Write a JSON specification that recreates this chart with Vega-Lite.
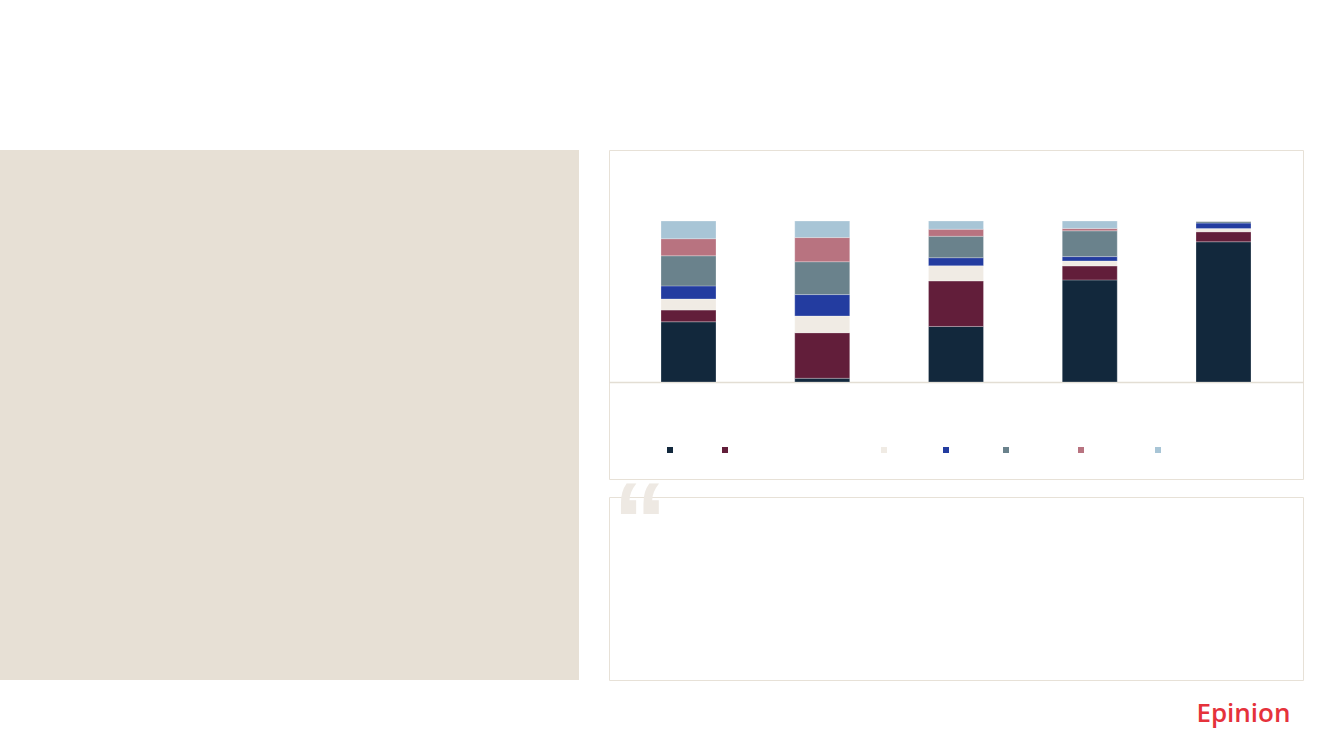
{
  "$schema": "https://vega.github.io/schema/vega-lite/v6.json",
  "background": "#ffffff",
  "padding": {"top": 149, "left": 0, "right": 30, "bottom": 30},
  "title": {
    "text": "Epinion",
    "orient": "bottom",
    "anchor": "end",
    "font": "Open Sans",
    "fontSize": 26,
    "fontWeight": 600,
    "color": "#e5323b",
    "offset": 20,
    "dx": -13
  },
  "config": {
    "view": {"stroke": null},
    "legend": {
      "labelFont": "Open Sans",
      "labelFontSize": 10,
      "labelColor": "#ffffff",
      "symbolType": "square",
      "symbolSize": 36,
      "symbolStrokeWidth": 0
    }
  },
  "bounds": "flush",
  "spacing": 30,
  "hconcat": [
    {
      "width": 579,
      "height": 530,
      "view": {"fill": "#e7e0d5", "stroke": null},
      "data": {"values": [{"panel": ""}]},
      "mark": {"type": "text"},
      "encoding": {"text": {"field": "panel", "type": "nominal"}}
    },
    {
      "bounds": "flush",
      "spacing": 18,
      "vconcat": [
        {
          "width": 694,
          "height": 329,
          "view": {"stroke": "#e7e1d7", "strokeWidth": 1},
          "data": {
            "values": [
              {"group": "1", "category": "Mainly", "rank": 1, "share": 37.4},
              {"group": "1", "category": "Often, though not every time", "rank": 2, "share": 7.3},
              {"group": "1", "category": "Partially", "rank": 3, "share": 6.9},
              {"group": "1", "category": "Seldom", "rank": 4, "share": 8.1},
              {"group": "1", "category": "Very rarely", "rank": 5, "share": 18.7},
              {"group": "1", "category": "Don't know", "rank": 6, "share": 10.6},
              {"group": "1", "category": "Not relevant", "rank": 7, "share": 11.0},
              {"group": "2", "category": "Mainly", "rank": 1, "share": 2.3},
              {"group": "2", "category": "Often, though not every time", "rank": 2, "share": 28.3},
              {"group": "2", "category": "Partially", "rank": 3, "share": 10.4},
              {"group": "2", "category": "Seldom", "rank": 4, "share": 13.3},
              {"group": "2", "category": "Very rarely", "rank": 5, "share": 20.4},
              {"group": "2", "category": "Don't know", "rank": 6, "share": 15.0},
              {"group": "2", "category": "Not relevant", "rank": 7, "share": 10.3},
              {"group": "3", "category": "Mainly", "rank": 1, "share": 34.5},
              {"group": "3", "category": "Often, though not every time", "rank": 2, "share": 28.3},
              {"group": "3", "category": "Partially", "rank": 3, "share": 9.4},
              {"group": "3", "category": "Seldom", "rank": 4, "share": 5.0},
              {"group": "3", "category": "Very rarely", "rank": 5, "share": 13.3},
              {"group": "3", "category": "Don't know", "rank": 6, "share": 4.4},
              {"group": "3", "category": "Not relevant", "rank": 7, "share": 5.1},
              {"group": "4", "category": "Mainly", "rank": 1, "share": 63.4},
              {"group": "4", "category": "Often, though not every time", "rank": 2, "share": 8.7},
              {"group": "4", "category": "Partially", "rank": 3, "share": 3.1},
              {"group": "4", "category": "Seldom", "rank": 4, "share": 2.7},
              {"group": "4", "category": "Very rarely", "rank": 5, "share": 16.0},
              {"group": "4", "category": "Don't know", "rank": 6, "share": 1.5},
              {"group": "4", "category": "Not relevant", "rank": 7, "share": 4.6},
              {"group": "5", "category": "Mainly", "rank": 1, "share": 87.1},
              {"group": "5", "category": "Often, though not every time", "rank": 2, "share": 6.2},
              {"group": "5", "category": "Partially", "rank": 3, "share": 2.0},
              {"group": "5", "category": "Seldom", "rank": 4, "share": 3.4},
              {"group": "5", "category": "Very rarely", "rank": 5, "share": 1.0},
              {"group": "5", "category": "Don't know", "rank": 6, "share": 0.2},
              {"group": "5", "category": "Not relevant", "rank": 7, "share": 0.1}
            ]
          },
          "mark": {"type": "bar", "stroke": "#ffffff", "strokeWidth": 0.5, "strokeOpacity": 0.5},
          "encoding": {
            "x": {
              "field": "group",
              "type": "nominal",
              "axis": {
                "title": null,
                "labels": false,
                "ticks": false,
                "grid": false,
                "domain": true,
                "domainColor": "#e3ded4",
                "domainWidth": 1.5,
                "offset": -97
              },
              "scale": {"paddingInner": 0.5888, "paddingOuter": 0.3888}
            },
            "y": {
              "field": "share",
              "type": "quantitative",
              "stack": "normalize",
              "axis": null,
              "scale": {"domain": [-0.6025, 1.441], "nice": false, "zero": false}
            },
            "order": {"field": "rank", "type": "quantitative"},
            "color": {
              "field": "category",
              "type": "nominal",
              "scale": {
                "domain": ["Mainly", "Often, though not every time", "Partially", "Seldom", "Very rarely", "Don't know", "Not relevant"],
                "range": ["#12283c", "#621e3a", "#f0ebe4", "#233ca0", "#6a828c", "#b87380", "#a8c5d6"]
              },
              "legend": {
                "title": null,
                "orient": "none",
                "direction": "horizontal",
                "legendX": 665,
                "legendY": 295
              }
            }
          }
        },
        {
          "width": 694,
          "height": 183,
          "view": {"stroke": "#e7e1d7", "strokeWidth": 1},
          "title": {
            "text": "“",
            "orient": "top",
            "anchor": "start",
            "font": "Liberation Sans",
            "fontSize": 108,
            "fontWeight": "bold",
            "color": "#eee9e3",
            "offset": 0,
            "dx": 4,
            "dy": 84
          },
          "data": {"values": [{"quote": ""}]},
          "mark": {"type": "text"},
          "encoding": {"text": {"field": "quote", "type": "nominal"}}
        }
      ]
    }
  ]
}
